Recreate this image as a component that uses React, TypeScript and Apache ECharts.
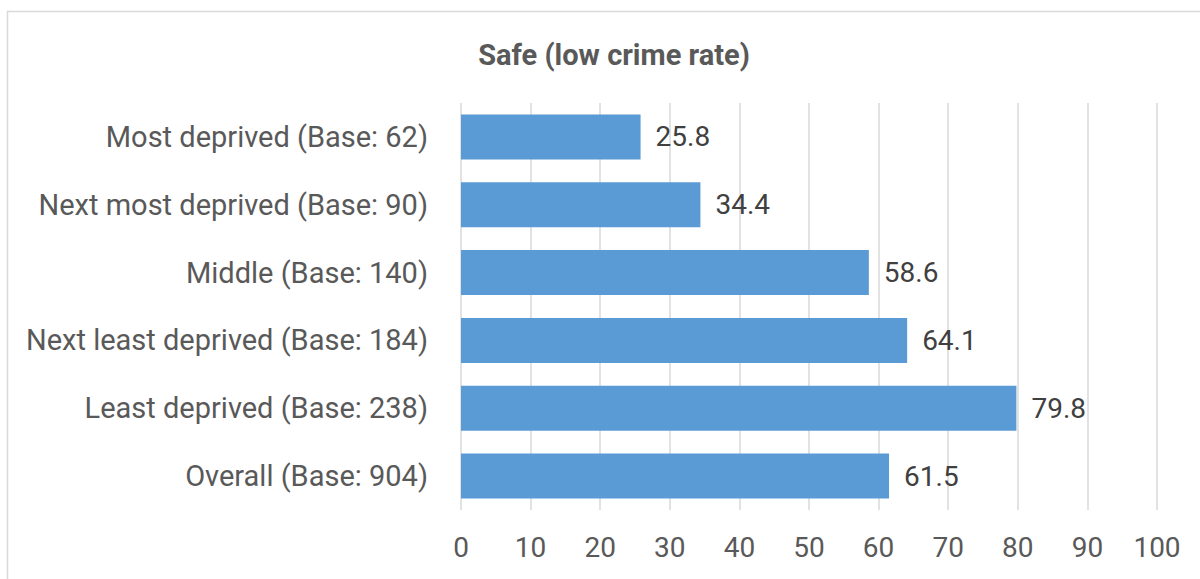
import React, { useEffect, useRef } from "react";
import * as echarts from "echarts";

const titleText = "Safe (low crime rate)";
const categories = [
  "Most deprived (Base: 62)",
  "Next most deprived (Base: 90)",
  "Middle (Base: 140)",
  "Next least deprived (Base: 184)",
  "Least deprived (Base: 238)",
  "Overall (Base: 904)",
];
const values = [25.8, 34.4, 58.6, 64.1, 79.8, 61.5];
const axisMin = 0;
const axisMax = 100;
const axisInterval = 10;

const FONT = "Roboto, 'Noto Sans', sans-serif";
const TEXT = "#595959";

export default function App() {
  const ref = useRef<HTMLDivElement>(null);
  useEffect(() => {
    if (!ref.current) return;
    const chart = echarts.init(ref.current, undefined, { renderer: "svg" });
    chart.setOption({
      animation: false,
      backgroundColor: "#ffffff",
      textStyle: { fontFamily: FONT },
      title: {
        text: titleText,
        left: 609,
        top: 35,
        textAlign: "center",
        textStyle: { fontFamily: FONT, fontSize: 29, fontWeight: "bold", color: TEXT },
      },
      graphic: [
        {
          type: "rect",
          shape: { x: 7.5, y: 11.5, width: 1300, height: 700 },
          style: { fill: "none", stroke: "#d9d9d9", lineWidth: 1.5 },
          silent: true,
        },
      ],
      grid: { left: 461, right: 43, top: 103, bottom: 69, containLabel: false },
      xAxis: {
        type: "value",
        min: axisMin,
        max: axisMax,
        interval: axisInterval,
        axisLine: { show: false },
        axisTick: { show: false },
        axisLabel: { fontFamily: FONT, fontSize: 28, color: TEXT, margin: 23 },
        splitLine: { show: true, lineStyle: { color: "#d9d9d9", width: 1.5 } },
      },
      yAxis: {
        type: "category",
        data: categories,
        inverse: true,
        axisLine: { show: false },
        axisTick: { show: false },
        axisLabel: { fontFamily: FONT, fontSize: 29, color: TEXT, margin: 33 },
      },
      series: [
        {
          type: "bar",
          data: values,
          barWidth: 45,
          itemStyle: { color: "#5B9BD5" },
          label: {
            show: true,
            position: "right",
            distance: 15,
            fontFamily: FONT,
            fontSize: 28,
            color: "#404040",
          },
        },
      ],
    });
    return () => chart.dispose();
  }, []);
  return (
    <div
      ref={ref}
      style={{ position: "fixed", left: 0, top: 0, width: 1200, height: 579 }}
    />
  );
}
